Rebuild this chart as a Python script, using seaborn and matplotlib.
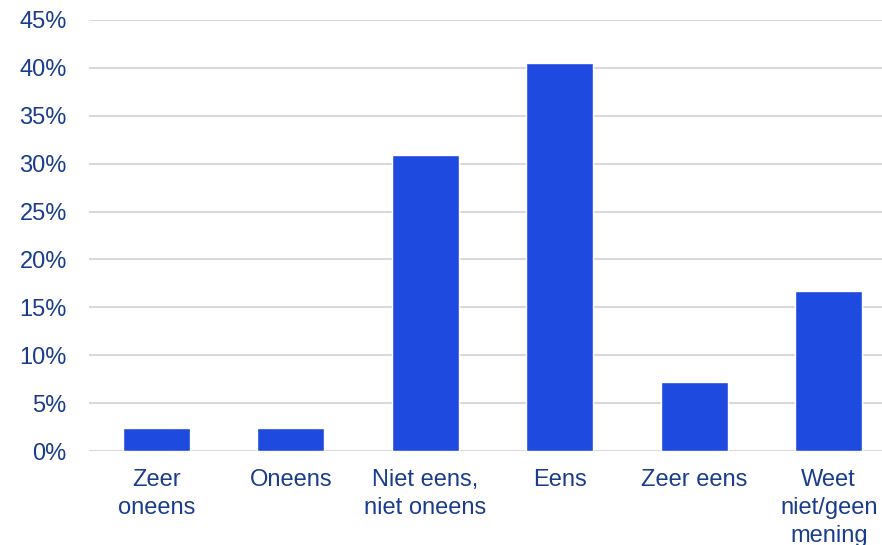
import pandas as pd
import seaborn as sns
import matplotlib.pyplot as plt
from matplotlib.ticker import MultipleLocator, FuncFormatter

categories = ["Zeer\noneens", "Oneens", "Niet eens,\nniet oneens", "Eens", "Zeer eens", "Weet\nniet/geen\nmening"]
values = [2.4, 2.4, 30.9, 40.5, 7.2, 16.7]

df = pd.DataFrame({"antwoord": categories, "pct": values})

sns.set_style("white")
plt.rcParams["font.family"] = ["Liberation Sans", "DejaVu Sans"]

text_color = "#1a3c8c"
bar_color = "#1f4ae0"
grid_color = "#d9d9d9"

fig = plt.figure(figsize=(8.82, 5.45), dpi=100)
# axes runs past the right edge, like the cropped original
ax = fig.add_axes([89 / 882, 94 / 545, 807 / 882, 431 / 545])

sns.barplot(data=df, x="antwoord", y="pct", color=bar_color, width=0.5,
            saturation=1, ax=ax, zorder=3)

ax.set_ylim(0, 45)
ax.yaxis.set_major_locator(MultipleLocator(5))
ax.yaxis.set_major_formatter(FuncFormatter(lambda v, p: f"{v:.0f}%"))
ax.grid(axis="y", color=grid_color, linewidth=1.5, zorder=0)
ax.set_axisbelow(True)
for s in ax.spines.values():
    s.set_visible(False)

ax.tick_params(axis="both", length=0, labelsize=17, labelcolor=text_color)
ax.tick_params(axis="y", pad=16)
ax.tick_params(axis="x", pad=13)
for lbl in ax.get_xticklabels():
    lbl.set_linespacing(1.35)
ax.set_xlabel("")
ax.set_ylabel("")

fig.savefig("out.png", dpi=100)
